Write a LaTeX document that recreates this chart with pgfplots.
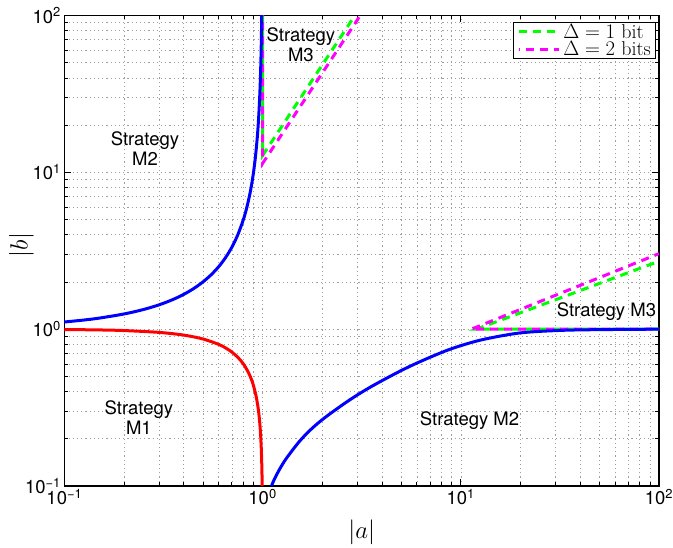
\documentclass[border=0pt]{standalone}
\usepackage{fontspec}
\setmainfont{TeX Gyre Heros}
\newfontfamily\cmr{Latin Modern Roman}
\usepackage{pgfplots}
\pgfplotsset{compat=1.18}
\definecolor{mgreen}{RGB}{0,255,0}
\definecolor{mmag}{RGB}{255,0,255}
\definecolor{mblue}{RGB}{0,0,255}
\definecolor{mred}{RGB}{255,0,0}

\begin{document}
\begin{tikzpicture}
\begin{axis}[
    scale only axis,
    width=594.6pt, height=470.5pt,
    xmode=log, ymode=log,
    xmin=0.1, xmax=100, ymin=0.1, ymax=100,
    axis line style={line width=1.2pt},
    tick align=inside,
    major tick length=7pt, minor tick length=4pt,
    tick style={black, line width=0.8pt},
    xtick={0.1,1,10,100},
    ytick={0.1,1,10,100},
    minor xtick={0.2,0.3,0.4,0.5,0.6,0.7,0.8,0.9,2,3,4,5,6,7,8,9,20,30,40,50,60,70,80,90},
    minor ytick={0.2,0.3,0.4,0.5,0.6,0.7,0.8,0.9,2,3,4,5,6,7,8,9,20,30,40,50,60,70,80,90},
    xticklabels={10\textsuperscript{−1},10\textsuperscript{0},10\textsuperscript{1},10\textsuperscript{2}},
    yticklabels={10\textsuperscript{−1},10\textsuperscript{0},10\textsuperscript{1},10\textsuperscript{2}},
    ticklabel style={font=\fontsize{18.5}{20}\selectfont},
    grid=both,
    major grid style={gray!75, dash pattern=on 1.2pt off 3pt, line width=0.6pt},
    minor grid style={gray!75, dash pattern=on 1.2pt off 3pt, line width=0.6pt},
    xlabel={$|a|$}, ylabel={$|b|$},
    label style={font=\fontsize{25}{28}\selectfont},
    xlabel style={at={([yshift=-46pt]rel axis cs:0.5,0)}, anchor=center},
    ylabel style={at={([xshift=-43pt]rel axis cs:0,0.512)}, anchor=center},
    legend style={at={(rel axis cs:0.9953,0.9862)}, anchor=north east,
        draw=black, line width=0.8pt, inner xsep=4pt, inner ysep=0.5pt,
        font=\fontsize{20}{20}\selectfont, row sep=0pt,
        nodes={inner sep=1pt},
        /tikz/every odd column/.append style={column sep=2pt}},
    legend cell align=left,
    legend image code/.code={\draw[#1] (0pt,0pt) -- (40pt,0pt);},
]
\coordinate (bl) at (rel axis cs:0,0);
\coordinate (tr) at (rel axis cs:1,1);

% dashed boundaries, Delta = 1 bit
\addplot[mgreen, line width=3pt, dash pattern=on 8pt off 6pt] coordinates {
    (1,100) (1,12.8) (2.92,100)
};
\addlegendentry{{\cmr $\Delta = 1$ bit}}
% Delta = 2 bits
\addplot[mmag, line width=3pt, dash pattern=on 8pt off 6pt, dash phase=7pt] coordinates {
    (1,100) (1,11.4) (3.11,100)
};
\addlegendentry{{\cmr $\Delta = 2$ bits}}
\addplot[mgreen, line width=3pt, dash pattern=on 8pt off 6pt, forget plot] coordinates {
    (100,1) (12,1) (100,2.71)
};
\addplot[mmag, line width=3pt, dash pattern=on 8pt off 6pt, dash phase=7pt, forget plot] coordinates {
    (100,1) (11.3,1) (100,3.03)
};

% blue boundaries
\addplot[mblue, line width=3pt, smooth, forget plot] coordinates {
    (0.1,1.1111) (0.125,1.1429) (0.15,1.1765) (0.2,1.25) (0.25,1.3333)
    (0.3,1.4286) (0.35,1.5385) (0.4,1.6667) (0.45,1.8182) (0.5,2)
    (0.55,2.2222) (0.6,2.5) (0.65,2.8571) (0.7,3.3333) (0.75,4) (0.8,5)
    (0.83,5.8824) (0.86,7.1429) (0.88,8.3333) (0.9,10) (0.92,12.5)
    (0.94,16.667) (0.95,20) (0.96,25) (0.97,33.333) (0.975,40) (0.98,50)
    (0.985,66.667) (0.99,100) (0.993,142.86) (0.995,200)
};
\addplot[mblue, line width=3pt, smooth, forget plot] coordinates {
    (1.09,0.093) (1.109,0.1) (1.148,0.1109) (1.221,0.1285) (1.318,0.15)
    (1.54,0.1936) (1.778,0.2333) (2.089,0.2764) (2.751,0.354) (3.548,0.4315)
    (4.915,0.5383) (6.31,0.6252) (8.782,0.743) (12.59,0.8521) (19.77,0.9454)
    (31.62,0.9817) (50,0.9931) (100,1.0)
};
% red boundary
\addplot[mred, line width=3pt, smooth, forget plot] coordinates {
    (0.1,0.99499) (0.15,0.98869) (0.2,0.9798) (0.3,0.95394) (0.4,0.91652)
    (0.5,0.86603) (0.6,0.8) (0.65,0.75993) (0.7,0.71414) (0.75,0.66144) (0.8,0.6)
    (0.85,0.52678) (0.88,0.47497) (0.9,0.43589) (0.93,0.36756) (0.95,0.31225)
    (0.96,0.28) (0.97,0.2431) (0.98,0.199) (0.985,0.17255) (0.99,0.14107)
    (0.995,0.09987) (0.999,0.0447)
};

\begin{scope}[every node/.style={font=\fontsize{18.5}{20}\selectfont, align=center}]
\node at (axis cs:0.255,14.2) {Strategy\\M2};
\node at (axis cs:1.56,65) {Strategy\\M3};
\node at (axis cs:0.2376,0.275) {Strategy\\M1};
\node at (axis cs:11.07,0.263) {Strategy M2};
\node at (axis cs:54.3,1.3) {Strategy M3};
\end{scope}
\end{axis}
\pgfresetboundingbox
\path ([shift={(-64.4pt,-62pt)}]bl) rectangle ([shift={(14pt,15.5pt)}]tr);
\end{tikzpicture}
\end{document}
